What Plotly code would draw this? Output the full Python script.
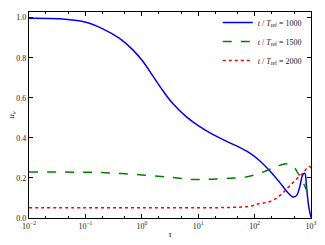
import plotly.graph_objects as go

# log10(tau) sample positions and values
blue_logtau = [-2.0, -1.46, -1.01, -0.70, -0.395, -0.159, 0.018, 0.195, 0.372, 0.549, 0.786, 1.021, 1.257, 1.552, 1.68, 1.91, 2.09, 2.26, 2.44, 2.58, 2.67, 2.74, 2.80, 2.85, 2.89, 2.92, 2.96, 3.0]
blue_vals = [0.997, 0.994, 0.978, 0.945, 0.896, 0.839, 0.782, 0.709, 0.636, 0.571, 0.506, 0.457, 0.417, 0.376, 0.360, 0.325, 0.286, 0.238, 0.179, 0.130, 0.106, 0.111, 0.155, 0.213, 0.223, 0.155, 0.057, 0.003]

green_logtau = [-2.0, -0.75, -0.16, 0.44, 0.85, 1.02, 1.20, 1.55, 1.91, 2.21, 2.39, 2.53, 2.67, 2.76, 2.84, 2.92, 2.97, 3.0]
green_vals = [0.229, 0.227, 0.218, 0.205, 0.193, 0.192, 0.193, 0.198, 0.208, 0.236, 0.257, 0.270, 0.263, 0.228, 0.189, 0.140, 0.105, 0.095]

red_logtau = [-2.0, -1.0, 0.0, 1.0, 1.6, 1.9, 2.09, 2.26, 2.39, 2.5, 2.67, 2.85, 2.94, 2.97, 3.0]
red_vals = [0.051, 0.051, 0.051, 0.051, 0.053, 0.058, 0.072, 0.081, 0.100, 0.125, 0.174, 0.223, 0.252, 0.257, 0.250]

x_tickvals = [1e-2, 1e-1, 1e0, 1e1, 1e2, 1e3]
x_ticktext = ["10<sup>−2</sup>", "10<sup>−1</sup>", "10<sup>0</sup>", "10<sup>1</sup>", "10<sup>2</sup>", "10<sup>3</sup>"]
y_tickvals = [0.0, 0.2, 0.4, 0.6, 0.8, 1.0]
y_ticktext = ["0.0", "0.2", "0.4", "0.6", "0.8", "1.0"]

names = ["<i>t</i> / <i>T</i><sub>ref</sub> = 1000",
         "<i>t</i> / <i>T</i><sub>ref</sub> = 1500",
         "<i>t</i> / <i>T</i><sub>ref</sub> = 2000"]

FONT = "Liberation Serif"

fig = go.Figure()
series = [
    (blue_logtau, blue_vals, "#0000ff", "solid"),
    (green_logtau, green_vals, "#007f00", "dash"),
    (red_logtau, red_vals, "#ff0000", "dot"),
]
for (lt, v, c, d), nm in zip(series, names):
    fig.add_trace(go.Scatter(
        x=[10 ** t for t in lt], y=v, mode="lines", name=nm,
        line=dict(color=c, width=1.5, dash=d, shape="spline", smoothing=1.0),
    ))

axis_common = dict(
    showline=True, linecolor="black", linewidth=1.2, mirror="allticks",
    ticks="inside", ticklen=4, tickcolor="black", showgrid=False, zeroline=False,
    tickfont=dict(family=FONT, size=8, color="#222"), automargin=False,
)

fig.update_xaxes(
    type="log", range=[-2, 3], tickvals=x_tickvals, ticktext=x_ticktext,
    minor=dict(ticks="inside", ticklen=2, tickcolor="black", showgrid=False),
    title=dict(text="<i>τ</i>", font=dict(family=FONT, size=9, color="#222"), standoff=0),
    **axis_common,
)
fig.update_yaxes(
    range=[0, 1.028], tickvals=y_tickvals, ticktext=y_ticktext,
    title=dict(text="<i>u</i><sub><i>v</i></sub>", font=dict(family=FONT, size=9, color="#222"), standoff=0),
    **axis_common,
)

fig.update_layout(
    width=325, height=245,
    margin=dict(l=29, r=14, t=8, b=27),
    paper_bgcolor="white", plot_bgcolor="white",
    font=dict(family=FONT, size=8, color="#222"),
    legend=dict(x=0.985, y=1.02, xanchor="right", yanchor="top",
                bgcolor="rgba(255,255,255,0)", borderwidth=0,
                font=dict(family=FONT, size=8), tracegroupgap=0,
                itemwidth=30),
    showlegend=True,
)

fig.write_html("out.html",
               config={"displayModeBar": False},
               post_script="document.body.style.margin='0';document.body.style.overflow='hidden';")
